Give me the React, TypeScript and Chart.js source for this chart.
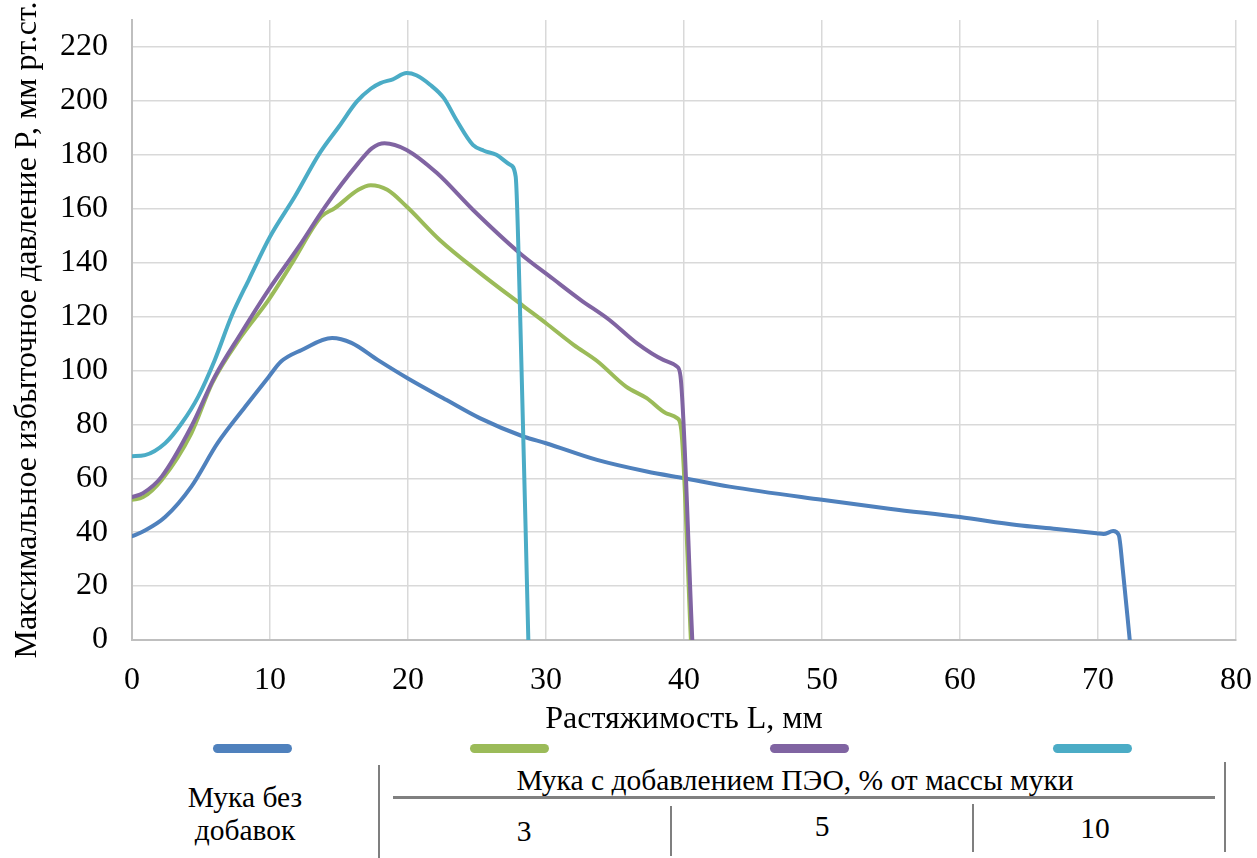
import React, { useEffect, useRef } from "react";
import { Chart, registerables } from "chart.js";

Chart.register(...registerables);

// Растяжимость L, мм (x) и давление P, мм рт.ст. (y) для каждой серии
const plainX = [0, 0.9, 2.4, 4.3, 6.2, 8.2, 9.9, 10.8, 12.3, 14.5, 15.9, 17.8, 20, 22.8, 25.2, 28.4, 30, 33.7, 37.3, 40, 43.3, 50, 55, 60, 64.1, 67, 69.9, 70.4, 71.1, 71.5, 71.8, 72.3];
const plainY = [38.5, 40.5, 45.6, 56.9, 73, 86.5, 97.6, 103.3, 107.6, 112, 110.2, 103.9, 97, 89, 82.3, 75.4, 73, 66.8, 62.5, 60, 56.9, 52, 48.6, 45.6, 42.7, 41.2, 39.6, 39.3, 40.4, 39, 26, 0];

const peo3X = [0, 0.8, 2.15, 4.3, 5.8, 7.9, 9.9, 11.6, 13.7, 14.7, 16.4, 17.3, 18.5, 19.9, 22.3, 25.2, 28.4, 30, 32, 33.7, 35.8, 37.3, 38.7, 39.5, 39.8, 40.5];
const peo3Y = [52, 53, 59.4, 76.7, 95.2, 112.5, 126.2, 139.8, 157, 160.2, 167, 168.7, 167, 160.8, 148.4, 136.2, 123.7, 117.5, 109.5, 103.5, 94, 89.7, 84.1, 82.3, 78, 0];

const peo5X = [0, 0.8, 2.15, 4.3, 6, 7.9, 9.9, 12.1, 14, 16.4, 17.4, 18.3, 19.9, 22.1, 24.7, 28.1, 30.5, 32.5, 34.6, 36.6, 38.5, 39.5, 39.75, 40.6];
const peo5Y = [53, 54.5, 60.6, 79.2, 97.7, 113.8, 129.9, 146, 160.8, 176.9, 182.5, 184.3, 181.8, 173.2, 159.6, 143.5, 134, 126.2, 118.7, 110, 103.9, 101.4, 97.7, 0];

const peo10X = [0, 0.94, 2.4, 3.6, 4.8, 6, 7.2, 8.5, 10, 11.8, 13.6, 15, 16.3, 17.3, 18, 18.9, 19.9, 20.6, 21.6, 22.6, 23.5, 24.7, 25.5, 26.4, 27.4, 27.8, 28.1, 28.72];
const peo10Y = [68.2, 68.6, 73, 80.4, 90.3, 103.9, 120, 134, 149.6, 164.5, 180.6, 190.5, 199.8, 204.5, 206.6, 208, 210.3, 209.5, 206, 201, 193, 183.7, 181.5, 180, 176.3, 172, 126, 0];

const seriesNames = ["Мука без добавок", "ПЭО 3 %", "ПЭО 5 %", "ПЭО 10 %"];
const seriesColors = ["#4F81BD", "#9BBB59", "#8064A2", "#4BACC6"];

const yTickValues = [0, 20, 40, 60, 80, 100, 120, 140, 160, 180, 200, 220];

const xTitle = "Растяжимость L, мм";
const yTitle = "Максимальное избыточное давление P, мм рт.ст.";

const legendLeft = ["Мука без", "добавок"];
const legendGroup = "Мука с добавлением ПЭО, % от массы муки";
const legendDoses = ["3", "5", "10"];

const FONT = "'Liberation Serif', 'Times New Roman', serif";

function toPoints(xs: number[], ys: number[]) {
  return xs.map((x, i) => ({ x, y: ys[i] }));
}

export default function App() {
  const canvasRef = useRef<HTMLCanvasElement | null>(null);

  useEffect(() => {
    const canvas = canvasRef.current;
    if (!canvas) return;
    const series = [
      toPoints(plainX, plainY),
      toPoints(peo3X, peo3Y),
      toPoints(peo5X, peo5Y),
      toPoints(peo10X, peo10Y),
    ];
    const chart = new Chart(canvas, {
      type: "line",
      data: {
        datasets: series.map((data, i) => ({
          label: seriesNames[i],
          data,
          borderColor: seriesColors[i],
          backgroundColor: seriesColors[i],
          borderWidth: 4,
          pointRadius: 0,
          fill: false,
          tension: 0.4,
          cubicInterpolationMode: "monotone" as const,
          borderCapStyle: "round" as const,
          borderJoinStyle: "round" as const,
          order: series.length - i,
        })),
      },
      options: {
        animation: false,
        responsive: false,
        devicePixelRatio: 1,
        layout: { padding: { left: 0, top: 20, right: 21, bottom: 0 } },
        plugins: { legend: { display: false }, tooltip: { enabled: false } },
        scales: {
          x: {
            type: "linear",
            min: 0,
            max: 80,
            ticks: {
              stepSize: 10,
              color: "#000",
              padding: 21,
              font: { family: FONT, size: 32 },
            },
            grid: { color: "#d9d9d9", lineWidth: 1.5, drawTicks: false },
            border: { color: "#bfbfbf", width: 2 },
            title: {
              display: true,
              text: xTitle,
              color: "#000",
              padding: { top: 0, bottom: 1 },
              font: { family: FONT, size: 32, lineHeight: 1.2 },
            },
            afterFit: (scale: any) => {
              // fixed band under the plot; edge labels fit in the layout padding
              scale.height = 100;
              scale.paddingLeft = 0;
              scale.paddingRight = 0;
            },
          },
          y: {
            type: "linear",
            min: 0,
            max: 230,
            afterBuildTicks: (scale: any) => {
              scale.ticks = yTickValues.map((value) => ({ value }));
            },
            ticks: {
              color: "#000",
              padding: 24,
              font: { family: FONT, size: 32 },
            },
            grid: { color: "#d9d9d9", lineWidth: 1.5, drawTicks: false },
            border: { color: "#bfbfbf", width: 2 },
            title: {
              display: true,
              text: yTitle,
              color: "#000",
              padding: { top: 8, bottom: 0 },
              font: { family: FONT, size: 32, lineHeight: 1.2 },
            },
            afterFit: (scale: any) => {
              scale.width = 132;
              scale.paddingTop = 0;
              scale.paddingBottom = 0;
            },
          },
        },
      },
    });
    return () => chart.destroy();
  }, []);

  const text = (content: string, x: number, y: number, size = 29.5) => (
    <div
      key={content + x + y}
      style={{
        position: "absolute",
        left: x,
        top: y,
        transform: "translate(-50%, -50%)",
        whiteSpace: "nowrap",
        fontFamily: FONT,
        fontSize: size,
        lineHeight: 1,
        color: "#000",
      }}
    >
      {content}
    </div>
  );

  const swatchX = [213, 470, 770, 1053];

  return (
    <div style={{ position: "absolute", left: 0, top: 0, width: 1257, height: 858, background: "#fff", overflow: "hidden" }}>
      <canvas ref={canvasRef} width={1257} height={740} style={{ position: "absolute", left: 0, top: 0 }} />
      {swatchX.map((x, i) => (
        <div
          key={"sw" + i}
          style={{
            position: "absolute",
            left: x,
            top: 744,
            width: 79,
            height: 9,
            borderRadius: 5,
            background: seriesColors[i],
          }}
        />
      ))}
      {/* table rules */}
      <div style={{ position: "absolute", left: 378, top: 765, width: 1.5, height: 93, background: "#7f7f7f" }} />
      <div style={{ position: "absolute", left: 1224, top: 762, width: 1.5, height: 90, background: "#7f7f7f" }} />
      <div style={{ position: "absolute", left: 670, top: 806, width: 1.5, height: 50, background: "#7f7f7f" }} />
      <div style={{ position: "absolute", left: 972, top: 804, width: 1.5, height: 48, background: "#7f7f7f" }} />
      <div style={{ position: "absolute", left: 393, top: 796, width: 822, height: 2.5, background: "#808080" }} />
      {text(legendLeft[0], 245, 798)}
      {text(legendLeft[1], 245, 831)}
      {text(legendGroup, 795, 781)}
      {text(legendDoses[0], 524, 832)}
      {text(legendDoses[1], 822, 827)}
      {text(legendDoses[2], 1095, 829)}
    </div>
  );
}
